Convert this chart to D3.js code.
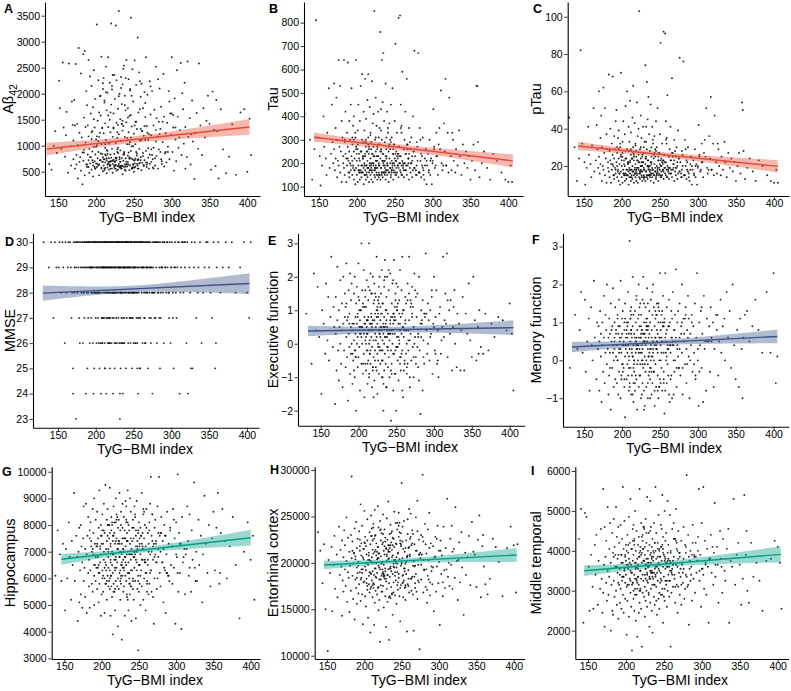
<!DOCTYPE html>
<html><head><meta charset="utf-8">
<script src="https://cdn.jsdelivr.net/npm/d3@7"></script>
<style>body{margin:0;background:#fff}svg{display:block}</style>
</head><body>
<script>
// ---------- DATA ----------
const tygIndex = [
131,138,141,144,146,148,151,152,154,156,157,159,160,161,163,164,166,167,168,169,
170,170,171,172,172,173,174,174,175,176,176,177,178,178,179,180,180,181,182,182,
183,183,184,184,185,185,186,187,187,188,188,189,189,190,190,190,191,191,192,192,
193,193,194,194,195,195,196,196,196,197,197,198,198,199,199,199,200,200,201,201,
201,202,202,203,203,204,204,204,205,205,206,206,207,207,207,208,208,209,209,209,
210,210,210,211,211,211,212,212,212,213,213,213,214,214,214,215,215,215,216,216,
216,217,217,217,218,218,218,219,219,219,220,220,220,221,221,221,222,222,222,223,
223,223,224,224,224,225,225,225,226,226,226,227,227,227,228,228,228,229,229,229,
230,230,230,231,231,231,232,232,232,233,233,233,234,234,234,235,235,235,236,236,
236,237,237,237,238,238,238,239,239,240,240,240,241,241,242,242,243,243,243,244,
244,244,245,245,246,246,246,247,247,248,248,249,249,249,250,250,251,251,252,252,
253,253,254,254,255,255,256,256,257,257,258,258,259,259,260,260,261,262,262,263,
263,264,264,265,266,266,267,267,268,269,269,270,271,271,272,273,273,274,275,276,
276,277,278,279,279,280,281,282,283,284,285,285,286,287,288,289,290,291,292,293,
294,295,296,297,298,299,300,301,302,303,304,305,306,307,308,309,311,312,313,315,
316,317,318,320,321,322,324,325,327,328,330,331,333,335,336,338,340,342,344,346,
348,350,352,354,356,358,359,360,362,365,368,372,376,380,385,391,396,400,403,405,
205,215,225,235,245,255,265,198,208,218,228,238,248,258,268,212,222,232,242,252,
186,196,203,211,219,227,233,239,247,253,261,270,282,292,302,314,326,214,224,234,
241,251,209,219,229,239,249,259,273,288,297,310,232,226,244,216,206,194,254,264,
188,195,201,207,212,217,221,226,230,234,238,243,247,251,256,261,267,274,280,287,
192,199,204,209,214,218,223,227,231,236,240,245,249,254,258,263,269,276,284,295,
184,197,203,210,213,219,224,228,233,237,241,246,250,255,260,266,272,278,290,305,
190,200,206,211,215,220,225,229,232,235,239,244,248,252,257,262,268,275,283,300,
194,202,208,212,216,222,226,230,234,237,242,246,251,255,259,265,271,279,286,318];

const abeta42 = [
920,650,540,1000,1280,860,2250,1720,940,2600,1350,790,1200,1650,480,2580,990,620,1850,1400,
1100,740,1880,560,1390,2570,820,640,1420,1010,370,2880,690,1250,780,2390,520,1160,870,260,
710,2760,1540,920,2820,430,1060,640,2050,1780,590,830,1390,720,2650,1180,480,940,2330,660,
1620,780,540,2150,890,1280,620,1740,410,980,2450,700,1350,560,1900,830,1120,660,3330,1010,
590,1480,760,2260,880,640,1170,430,1950,720,1580,850,2710,560,1030,690,1340,510,2090,780,
1240,620,2300,740,1870,560,960,1430,680,2520,810,1110,470,1680,720,900,2020,580,1360,650,
2700,760,1040,540,1500,690,2210,830,620,1260,3350,700,1790,560,940,2080,650,1170,480,1620,
730,1330,590,2360,840,620,1900,700,3310,1050,560,1440,770,2260,610,1150,880,1710,540,960,
650,3590,1220,780,580,2000,910,1510,690,2320,560,1090,760,1800,620,1290,450,2180,830,710,
1380,590,2540,860,1170,640,1960,760,520,1450,2650,690,1030,600,1720,810,2280,640,1260,530,
1570,780,2090,620,1160,900,3460,560,1370,740,2470,640,1850,990,500,1230,2640,720,1460,600,
880,2170,650,1320,3080,720,1640,560,2410,940,1100,670,1940,780,2190,530,1280,860,1720,610,
1190,2030,720,1550,900,2700,640,1380,1980,770,1110,560,2240,830,1600,690,1200,2050,740,1390,
960,1690,620,1300,2520,800,1180,560,1460,2100,880,1320,1750,650,1070,2380,1560,850,1240,680,
1440,980,2050,740,1620,1210,2700,880,1350,520,1910,1120,700,2450,1560,960,1300,2590,820,1700,
1040,2210,1360,780,2620,1170,1530,640,1870,1080,360,1250,1630,940,2580,1390,820,1720,1160,1480,
1960,1420,540,2040,1310,610,1880,1280,370,1700,930,470,790,1410,440,1640,1700,500,1520,820,
1250,840,690,1480,2060,730,1110,590,1340,640,930,1780,560,2240,670,1030,2360,610,1540,750,
1360,680,1090,530,1640,720,2110,600,990,1460,670,1220,2280,880,1590,2010,1220,760,620,1420,
1150,580,2200,700,860,1680,640,1320,930,1460,1850,1160,590,770,1030,690,1960,1260,850,1380,
640,720,1180,580,830,690,2150,760,610,1420,540,870,1960,660,740,1280,590,820,1530,700,
780,560,1640,690,920,610,1350,520,740,2480,650,1070,580,810,1700,630,950,560,1220,880,
870,1510,620,740,2030,560,690,1260,590,830,640,1590,720,560,1110,680,2140,760,600,1350,
590,980,720,1830,640,770,560,1400,690,610,2300,750,580,1030,660,800,1250,580,930,1620,
1130,650,840,570,1580,710,630,1950,560,880,690,760,1390,620,720,1820,650,1080,740,560];

const tau = [
410,300,130,260,810,310,230,105,190,400,270,220,150,330,520,180,240,450,290,200,
540,260,170,350,220,480,140,300,210,640,190,270,530,160,250,380,120,310,200,230,
640,180,290,150,420,240,120,330,190,270,630,210,160,380,250,140,300,200,450,170,
230,520,150,280,190,360,130,250,400,170,220,110,310,180,640,260,150,210,340,120,
280,190,450,160,240,130,380,210,170,530,250,140,300,190,580,160,220,420,180,110,
200,150,340,230,560,170,270,130,390,190,250,160,470,210,140,310,580,180,240,120,
260,170,440,200,150,330,220,130,290,180,550,240,160,370,200,120,270,190,410,150,
230,850,170,300,140,250,480,190,160,360,210,130,270,180,420,230,150,310,200,140,
190,280,150,760,220,130,340,180,250,640,160,300,210,140,460,190,670,240,160,380,
210,150,290,180,540,230,130,260,170,420,200,150,330,190,250,120,370,220,160,300,
180,260,140,450,210,170,310,190,520,240,130,280,200,160,380,220,150,710,250,180,
330,160,240,190,820,140,270,200,830,170,450,230,150,360,210,590,180,260,140,300,
200,170,420,240,150,560,190,280,220,130,350,180,260,160,310,210,140,400,250,180,
680,230,150,290,190,270,670,160,350,210,140,240,190,310,170,130,220,260,110,190,
240,170,300,150,220,110,200,430,260,180,190,330,230,150,280,350,510,200,170,370,
250,560,190,330,160,480,230,170,300,210,160,260,190,340,230,150,280,200,250,180,
230,130,210,280,170,530,530,290,140,200,250,180,130,240,210,160,130,120,190,120,
250,180,310,200,150,270,190,330,220,170,280,160,240,350,200,190,230,260,160,210,
220,300,170,240,190,260,150,310,180,230,200,290,160,210,270,190,330,250,180,210,
170,240,290,200,160,220,280,190,230,150,210,260,180,230,200,270,160,310,190,240,
220,180,260,160,300,190,240,150,350,210,170,280,200,160,230,190,260,170,210,180,
190,270,160,230,180,320,170,210,250,160,190,290,170,220,160,200,240,180,300,160,
300,170,220,190,150,260,180,230,160,210,350,170,190,240,150,280,200,170,190,230,
160,240,190,150,280,170,210,190,430,160,230,180,260,150,200,170,220,250,160,210,
210,170,230,290,160,200,180,150,240,190,270,160,210,180,330,170,200,150,230,190];

const ptau = [
46,30,12,24,82,32,22,10,19,41,26,21,14,31,51,17,23,42,29,19,
60,25,16,35,21,47,12,30,20,62,18,27,51,15,24,37,11,29,19,22,
69,17,28,14,40,23,11,32,18,26,68,20,15,36,24,13,29,19,44,16,
22,50,14,27,18,35,12,24,39,16,21,10,30,17,70,25,14,20,33,11,
27,18,44,15,23,12,37,20,16,52,24,13,29,18,60,15,21,41,17,10,
19,14,33,22,55,16,26,12,38,18,24,15,46,20,13,30,63,17,23,11,
25,16,43,19,14,32,21,12,28,17,54,23,15,36,19,11,26,18,40,14,
22,103,16,29,13,24,47,18,15,35,20,12,26,17,41,22,14,30,19,13,
18,27,14,74,21,12,33,17,24,65,15,29,20,13,45,18,57,23,15,37,
20,14,28,17,53,22,12,25,16,41,19,14,32,18,24,11,36,21,15,29,
17,25,13,44,20,16,30,18,51,23,12,27,19,15,37,21,14,86,24,17,
32,15,23,18,92,13,26,19,91,16,44,22,14,35,20,58,17,25,13,29,
19,16,41,23,14,67,18,27,21,12,34,17,25,15,30,20,13,39,24,17,
78,22,14,28,18,26,76,15,34,20,13,23,18,30,16,12,21,25,10,18,
23,16,29,14,21,10,19,42,25,17,18,32,22,14,27,34,51,19,16,36,
24,57,18,32,15,47,22,16,29,20,15,25,18,33,22,14,27,19,24,17,
22,12,20,27,16,54,50,28,13,19,24,17,12,23,20,15,12,11,18,11,
24,17,30,19,14,26,18,32,21,16,27,15,23,34,19,18,22,25,15,20,
21,29,16,23,18,25,14,30,17,22,19,28,15,20,26,18,32,24,17,20,
16,23,28,19,15,21,27,18,22,14,20,25,17,22,19,26,15,30,18,23,
21,17,25,15,29,18,23,14,33,20,16,27,19,15,22,18,25,16,20,17,
18,26,15,22,17,31,16,20,24,15,18,28,16,21,15,19,23,17,29,15,
29,16,21,18,14,25,17,22,15,20,34,16,18,23,14,27,19,16,18,22,
15,23,18,14,27,16,20,18,41,15,22,17,25,14,19,16,21,24,15,20,
20,16,22,28,15,19,17,14,23,18,26,15,20,17,32,16,19,14,22,18];

const mmse = [
30,29,30,27,30,29,29,30,28,30,29,26,30,28,29,30,30,29,27,28,
25,24,30,29,28,30,29,23,30,28,30,29,27,30,26,29,30,28,29,30,
26,30,29,28,30,27,30,29,24,28,30,25,29,30,28,27,30,29,26,30,
29,30,28,27,30,29,26,30,28,29,24,30,25,29,30,28,27,30,29,26,
30,28,29,27,30,26,29,30,25,28,30,29,24,30,28,27,29,30,26,29,
30,29,28,30,27,29,30,25,26,28,30,29,30,24,27,29,28,30,26,29,
28,30,29,26,30,27,28,29,30,25,29,30,28,26,30,29,27,28,30,24,
29,30,28,27,30,29,25,26,30,28,29,30,27,29,28,30,26,29,30,28,
30,29,27,28,30,26,29,23,30,28,29,25,27,30,29,28,26,30,29,24,
28,30,29,26,30,27,29,28,30,25,29,30,28,27,30,29,26,28,30,29,
30,28,29,27,30,26,29,30,28,25,30,29,27,28,30,26,29,30,28,29,
29,30,27,28,30,26,29,24,30,28,29,30,27,25,30,29,28,26,30,29,
30,28,29,27,30,26,29,30,28,25,29,30,27,28,30,29,26,29,30,28,
29,30,28,27,30,29,26,30,28,29,25,30,27,29,30,28,26,30,29,28,
30,29,28,27,30,26,29,30,28,25,29,30,28,27,29,30,24,28,29,30,
28,30,29,26,30,24,29,28,30,25,29,30,27,28,29,30,26,28,29,30,
30,29,28,27,30,25,26,29,30,28,29,30,29,30,28,29,30,28,27,30,
30,29,28,30,27,29,30,28,26,29,30,28,27,30,29,25,28,30,29,26,
29,30,28,29,27,30,28,29,30,26,29,30,28,29,27,30,25,29,30,28,
30,28,29,26,30,29,28,30,27,29,28,30,24,29,30,28,26,29,30,27,
30,29,28,30,29,27,30,28,29,30,26,29,30,28,27,30,29,28,30,29,
29,30,28,29,30,26,28,30,29,27,30,29,28,30,25,29,30,28,27,30,
28,30,29,27,30,28,29,30,26,29,30,28,29,25,30,28,29,27,30,29,
30,28,29,30,27,29,28,30,29,26,30,28,29,30,27,29,28,24,30,29,
29,30,27,28,30,29,26,30,28,29,30,27,29,28,30,26,29,30,28,30];

const executive = [
0.9,-0.6,2.1,0.4,1.7,0.2,-1.5,1.0,0.6,-0.3,1.8,0.1,1.4,-0.5,0.8,2.6,-0.1,1.1,0.5,-1.8,
0.3,1.4,-0.8,0.7,2.3,-0.2,1.0,-1.1,0.5,1.9,0.0,-0.6,1.2,0.4,-1.3,2.0,0.6,-0.2,1.5,0.8,
-0.7,1.1,0.2,2.4,-0.4,0.7,-1.7,1.6,0.3,-0.1,0.9,2.1,-0.9,0.5,1.3,-0.3,0.0,1.8,0.6,-1.2,
0.4,-0.5,1.5,0.1,2.0,-1.0,0.8,0.3,-0.2,1.2,-2.0,0.6,1.7,-0.7,0.2,0.9,2.4,-0.4,0.5,1.3,
-0.1,0.7,-1.4,1.0,0.3,3.0,-0.6,0.5,1.6,0.0,-0.9,1.2,0.4,-0.3,2.2,0.8,-1.6,0.1,1.4,0.6,
0.2,-0.8,1.1,0.5,-0.2,1.9,0.7,-1.2,0.3,1.3,-0.5,0.8,3.0,0.0,-1.0,0.6,1.6,-0.3,0.4,2.1,
-0.6,0.9,0.2,1.5,-1.3,0.6,-0.1,2.0,0.4,-0.8,1.2,0.1,-0.4,0.7,1.8,-1.1,0.3,0.9,-0.2,1.4,
0.5,-0.7,2.6,0.2,1.0,-0.3,0.6,-1.5,1.3,0.0,0.8,-0.9,1.7,0.4,-0.1,2.0,0.3,-0.6,1.1,0.7,
-0.2,1.5,0.4,-1.0,0.9,2.2,-0.5,0.1,1.2,-2.0,0.6,0.3,-0.8,1.7,0.8,-0.3,0.5,2.5,-0.6,1.0,
0.2,-1.3,0.7,1.4,-0.1,0.5,2.0,-0.7,0.9,0.3,-0.4,1.6,0.1,-1.0,0.6,2.1,-0.2,0.8,-2.3,1.2,
0.4,-0.6,1.8,0.0,0.9,-1.4,0.6,2.5,-0.3,1.1,0.3,-0.9,1.5,0.7,-0.1,-2.0,1.0,0.2,-0.5,1.7,
0.6,-1.1,1.3,0.1,-0.4,2.2,0.8,-0.8,0.3,1.6,-0.2,2.6,0.5,-1.6,1.0,0.2,-0.6,1.4,0.7,-0.3,
1.2,0.0,-0.9,1.8,0.4,-0.2,2.6,0.7,-1.3,0.3,1.1,-0.5,0.9,1.7,-0.1,0.5,-1.0,2.1,0.2,1.4,
-0.4,0.8,1.5,-0.7,0.3,2.0,-0.2,-2.1,1.0,0.6,-1.4,1.3,0.1,-0.6,0.9,2.7,0.4,-0.3,1.2,0.7,
-0.5,1.0,0.3,1.4,-0.9,0.6,2.0,-0.2,0.8,1.6,-0.6,0.4,-1.0,0.9,1.1,-0.3,0.5,2.6,0.2,1.5,
0.6,2.7,-0.4,1.0,0.3,1.3,-0.8,0.5,1.6,0.0,-0.7,0.9,0.6,-0.8,0.4,1.4,-0.8,0.9,0.3,1.8,
0.1,-0.4,2.0,0.7,-0.5,0.5,-0.3,1.0,-0.1,-0.3,0.9,-0.2,0.6,0.2,0.8,0.7,0.4,1.2,0.3,-1.4,
0.5,-0.3,1.1,0.2,0.8,-0.6,1.3,0.0,0.6,1.5,-0.2,0.4,-0.9,0.9,0.1,0.7,-0.5,1.2,0.3,-0.1,
0.8,-0.4,1.0,0.3,-0.7,1.4,0.5,-0.1,0.9,0.2,-0.5,1.2,0.6,0.0,-0.3,0.7,1.1,0.4,-0.8,0.5,
0.3,1.0,-0.6,0.7,0.2,-0.2,1.3,0.5,-0.4,0.8,1.6,0.1,-1.0,0.9,0.4,-0.2,1.1,0.6,0.0,-0.7,
0.6,-0.2,1.0,0.3,-0.6,0.8,1.3,-0.1,0.5,1.9,0.2,-0.8,0.7,1.1,-0.4,0.4,1.5,0.0,-1.1,0.9,
-0.3,0.8,0.2,1.6,-0.9,0.5,0.1,1.2,-0.5,0.6,2.2,0.3,-0.2,0.9,-1.4,0.4,1.3,-0.6,0.7,0.2,
1.2,-0.4,0.5,0.0,1.7,-0.7,0.8,0.3,-1.2,1.0,0.4,-0.3,1.8,0.6,-0.8,0.1,1.1,-0.1,0.9,-0.5,
0.4,1.4,-0.6,0.7,0.1,-1.6,1.0,0.5,-0.2,2.0,0.3,-0.9,0.8,1.2,-0.3,0.6,-1.0,1.6,0.2,0.5,
-0.8,0.3,1.1,-0.2,0.6,1.5,-0.5,0.9,0.0,-1.3,0.7,1.9,-0.1,0.4,1.0,-0.6,0.8,0.2,-0.4,1.3];

const memory = [
-0.2,1.2,0.3,0.8,1.8,0.2,1.6,-0.3,0.5,1.1,-0.8,1.4,0.4,0.0,2.1,0.6,-0.5,1.0,0.3,0.9,
0.5,-0.8,1.3,0.1,0.7,-1.1,1.0,0.4,-0.3,1.7,0.6,-0.6,0.2,1.2,0.8,-0.1,2.0,0.3,-0.9,0.6,
1.1,-0.4,0.7,0.2,1.5,-1.3,0.5,0.9,-0.2,0.4,1.9,0.0,-0.7,1.0,0.3,0.6,-0.5,1.4,0.1,0.8,
-0.6,0.4,1.2,0.0,0.7,-0.9,1.6,0.3,-0.3,0.9,0.5,-1.0,2.1,0.2,0.6,-0.4,1.1,0.7,-0.1,0.4,
1.3,-0.2,0.5,0.8,-0.7,0.1,1.5,-1.5,0.6,0.3,1.0,-0.5,0.2,0.9,-0.1,1.8,0.4,-0.8,0.7,0.0,
3.15,0.3,-0.6,1.1,0.5,-0.2,0.8,1.4,-0.9,0.2,0.6,-0.4,2.2,0.1,0.9,-1.1,0.4,1.2,0.0,0.7,
-0.3,0.6,1.3,-0.8,0.2,1.0,0.5,-0.5,1.7,0.3,-0.1,0.8,-1.3,0.4,1.1,0.0,0.6,-0.7,2.0,0.3,
0.9,-0.4,0.2,1.5,-0.1,0.6,-1.0,1.2,0.4,0.0,0.8,-0.6,1.6,0.3,-0.2,0.7,2.2,-0.8,0.5,1.0,
0.1,-1.2,0.7,0.4,1.4,-0.3,0.8,0.0,-0.7,1.1,0.5,1.9,-0.1,0.3,-1.0,0.9,0.6,-0.4,1.3,0.2,
0.7,-0.5,1.0,0.3,-0.2,1.6,0.4,-0.9,0.8,0.1,1.2,-0.6,0.5,2.0,0.0,-0.3,0.9,0.4,-1.2,0.6,
-0.1,1.1,0.3,-0.7,0.8,0.5,1.5,-0.4,0.2,1.0,-1.0,0.6,0.0,1.3,-0.5,2.3,0.4,0.8,-0.2,1.2,
0.5,-0.8,0.9,1.7,0.2,-0.3,1.1,-1.4,0.6,2.3,0.0,0.7,-0.6,1.4,0.3,-0.1,0.9,1.6,-0.9,0.4,
1.0,0.2,-0.5,1.3,0.6,-1.0,0.4,1.8,0.0,0.8,-0.3,1.2,0.5,2.4,-0.7,0.3,1.0,0.1,-0.2,1.5,
0.6,-0.4,0.9,2.0,0.2,-0.9,1.1,0.5,-0.1,1.4,0.3,-0.6,0.8,1.7,0.1,-1.0,0.7,0.4,1.2,-0.3,
0.9,0.2,1.5,-0.5,0.6,2.3,0.0,-1.2,1.0,0.4,1.3,-0.2,0.7,-1.1,1.7,0.3,-0.8,1.1,0.5,0.9,
-0.3,1.4,0.6,1.0,-0.7,0.3,1.2,0.8,-0.4,0.5,1.6,0.2,0.9,1.1,0.0,1.8,0.6,1.3,-0.2,2.0,
0.4,-0.5,0.8,-0.7,1.1,0.3,-1.0,0.6,1.2,1.3,0.5,0.9,1.6,0.8,0.2,1.8,0.2,2.3,-0.6,0.1,
0.4,-0.2,0.9,0.1,1.2,-0.6,0.6,0.3,1.0,-0.4,0.7,0.0,1.4,0.5,-0.9,0.8,0.2,1.1,-0.3,0.6,
0.8,0.2,-0.5,1.1,0.4,-0.1,0.9,0.6,-0.8,1.3,0.3,0.0,0.7,1.0,-0.3,0.5,1.2,0.1,0.6,-0.6,
0.3,1.0,-0.2,0.6,1.5,0.1,-0.7,0.8,0.4,1.1,-0.4,0.5,0.9,0.2,1.3,-0.1,0.7,0.0,1.0,0.4,
0.2,0.9,-0.3,0.6,1.2,-0.6,0.4,0.8,-0.1,1.5,0.3,-0.8,0.7,0.0,1.0,-0.4,0.5,1.3,-0.2,0.6,
0.7,-0.5,1.1,0.1,-0.9,0.5,1.4,0.0,0.6,-0.3,1.8,0.4,-0.7,0.9,0.2,-1.1,0.8,0.3,1.2,-0.1,
-0.2,0.6,1.0,-0.7,0.3,1.6,-0.4,0.5,0.9,-1.0,0.2,1.2,0.6,-0.5,0.4,1.1,-0.2,0.7,0.0,1.4,
0.5,-0.1,0.8,1.3,-0.6,0.3,0.7,-1.3,1.0,0.1,-0.3,0.6,1.5,0.2,-0.8,0.9,0.4,-0.2,1.1,0.3,
1.1,0.4,-0.4,0.7,0.0,1.2,-0.9,0.5,0.8,-0.2,1.4,0.3,-0.6,0.9,0.1,-0.4,0.6,1.0,-0.1,0.5];

const hippocampus = [
7700,6100,7800,6900,5900,7300,4800,7100,6000,8100,6800,5200,7400,6500,9200,5900,7600,6800,4400,7000,
5100,7900,6300,8000,5400,7200,6600,4900,7500,5900,8700,6400,7100,5300,8800,6900,4700,7600,6200,8300,
6700,5700,7800,4900,8100,6300,7400,5800,7000,8600,5500,6900,7700,6100,9000,5000,7300,6500,8200,5900,
7200,6400,8500,5600,7500,6800,5100,7900,6200,9300,5800,7100,6600,4600,8000,6900,5400,7600,6300,8400,
6000,7300,5500,8800,6700,4700,7700,6400,9500,5800,7100,6500,8200,5200,7400,6100,8600,5700,7000,6800,
8000,5900,7500,6300,9400,5600,7200,6600,4600,7800,6100,8300,5300,7000,6500,3900,7600,6200,8700,5800,
6900,7700,5500,8100,6300,7300,4800,6700,9000,5900,7500,6400,8400,5700,7100,6600,4200,7900,6000,8200,
7400,5600,6800,9200,6200,7800,5200,7000,6500,8500,5800,7300,3700,6600,7900,6100,8800,5500,7100,6700,
6300,8300,5700,7500,6800,4600,8900,6100,7200,5900,8100,6500,7700,5300,6900,9300,6200,7400,4800,8000,
6600,5800,7800,6200,9000,5400,7300,6700,8500,5700,7100,4400,7900,6300,8200,6000,7500,5200,6800,8700,
7000,6400,8300,5900,7600,4500,7200,6600,8900,5600,7400,6100,3300,7800,6500,8100,5800,7300,6900,5000,
7600,6300,9200,5700,7100,6700,8400,5200,7500,6000,8000,6600,4800,7200,6200,8600,5900,7700,6500,5400,
7300,8100,5800,6900,9800,6300,7600,5500,8400,6700,7200,4300,7900,6000,8200,6600,7400,5600,8700,6800,
7100,9800,6200,7700,5700,8300,6600,7400,5100,8000,6300,7600,4700,6900,8500,6100,7300,5900,7800,6500,
7200,5800,8600,6400,7500,4300,8100,6800,9900,5500,7700,6200,7300,4100,8300,6600,7100,5400,6900,8700,
7400,6100,8400,5500,7800,6700,9600,6400,7000,5900,8200,6500,7600,5100,6900,9100,7300,6200,8000,5700,
7500,8500,6300,7900,9200,5800,6200,7700,8600,7400,6000,7200,8300,6500,4500,7000,8100,6700,7600,5200,
6600,7400,5900,8100,6900,7700,6200,7200,8000,6400,7500,5800,7100,6700,8400,6100,7300,6800,5600,7900,
7200,6500,7800,6000,7400,6900,8200,6300,7000,7600,5500,7300,6600,7900,6200,7100,5900,8000,6800,7400,
6900,7500,6400,8100,7100,5700,7700,6600,7300,6200,8200,6800,7500,6000,7000,7600,6300,7200,6700,7800,
7100,6400,7800,5900,7300,6700,8300,6100,7500,5400,6900,7900,6300,7200,8600,5800,7000,6600,7700,6200,
6800,7600,6000,7100,8100,5600,7400,6500,7800,6200,6900,8400,5900,7300,6600,7000,5300,7700,6400,7200,
7500,6200,7000,8000,5700,6800,7300,6400,8700,6000,7400,6700,5500,7100,7900,6300,6900,7600,6100,7300,
6500,7300,5800,7700,6900,8200,6300,7000,6600,5200,7500,6800,7200,6100,8500,6700,7400,6000,7100,6900,
7300,6100,7600,6700,5500,7100,8000,6400,7400,6900,5900,7800,6500,7200,6200,8800,6800,7000,7600,6400];

const entorhinal = [
19200,23300,21300,17800,22000,15000,10500,20300,18900,21700,14800,19800,22900,17200,20900,16300,23900,18700,21400,19600,
14300,22400,18100,20600,16900,23500,19300,21900,17500,20200,24900,15800,19000,22700,18400,14700,21200,19700,23000,17000,
20500,29300,18600,22300,16100,19900,21000,13900,23700,18200,20700,17300,24400,19500,15600,21600,18900,22600,16700,20100,
23400,17700,21300,19000,26300,15900,20800,18400,22100,16600,24000,19300,13400,21500,17900,20400,25600,18000,22800,16400,
19600,21800,15300,20900,18300,24700,17100,22400,19800,14100,21100,18600,23300,16800,20300,12500,22000,18800,25100,17400,
20600,18100,22900,16300,21400,19100,24200,17800,20000,13300,22600,18700,21200,15700,25700,19400,17000,23000,20800,18400,
22100,16600,20400,18900,26100,17300,21700,14900,19700,23800,18200,21000,16000,24500,19300,11500,20700,22400,17600,19900,
18600,23200,20100,16900,22000,19000,25200,17500,21300,15200,19800,23600,18300,20900,16400,22700,19400,13100,21600,18000,
24800,17200,20200,22500,18700,15800,21900,19300,26600,17800,20500,11700,23100,18500,21200,16200,19600,24100,17400,22200,
19100,21400,16700,23400,18800,20800,14400,22600,17900,25500,19500,21700,16500,20300,24300,18100,22000,15600,20600,17600,
23600,19000,21100,17100,22800,18400,25400,16400,20400,22100,13700,19700,21800,17600,28600,20000,23900,18600,16300,21500,
19400,24500,17300,21200,19900,16000,22400,18800,20700,12600,23100,17700,21600,19200,25800,16800,20900,18300,22800,17000,
21900,18500,23500,16600,20200,12700,22000,19600,17300,24900,18800,21300,16100,26700,19800,17900,22500,10700,20500,23000,
18200,20900,29500,16800,22300,19300,24200,17400,21000,15700,23600,18600,20300,25400,16500,22100,19100,17700,21800,14800,
20600,22800,16900,19600,24000,17800,21300,13300,22400,18800,20800,16400,23900,19200,17300,21600,26900,18500,20000,22600,
19800,24000,17200,21500,18400,26000,20200,16000,22200,17900,23300,19500,14400,21100,18700,20600,22900,17600,24400,21200,
20900,17400,22500,25100,16300,21800,23000,19600,17700,16600,18300,22600,21700,20100,16400,21600,23900,21900,16800,22000,
20300,18500,22200,19400,21000,17600,23100,20600,18900,21700,19100,22700,17300,20800,19700,23800,18200,21400,20000,17900,
21100,19300,17800,22400,20500,18600,21900,19900,23300,18100,20700,16900,22000,19500,21300,17500,20300,22900,18800,21600,
19000,22300,20200,17400,21500,19600,23200,18300,20900,17900,22600,19300,21200,18600,24300,20000,17700,21800,19400,22100,
20400,18200,22100,19000,17300,21200,23500,18800,20700,16400,21900,19500,24300,17800,20100,22600,18500,20900,19200,21600,
19700,21500,17500,22900,19400,20500,16900,21800,18700,23200,20300,17900,22000,19100,24700,18300,21300,19800,17100,20700,
21300,18900,20000,23700,17700,21000,19300,22300,16300,20600,18600,24000,19900,17400,21700,20200,18100,22800,19600,17900,
18400,22200,20800,17600,21400,19500,23100,18300,20400,21900,16800,19900,22400,18700,20600,25300,17800,21100,19300,20100,
22500,19200,17200,21000,20000,23600,18500,20900,19400,16600,22100,18800,20500,21600,17500,19700,23400,20300,18200,21200];

const middleTemporal = [
3450,4300,5050,2200,4950,4850,3600,2500,3900,3100,2550,4150,3400,4400,2650,3750,3050,4550,3300,2450,
5550,2950,3650,4600,2100,3850,3200,4250,2750,5100,3500,2900,4050,3350,4700,2000,3700,3150,4450,2500,
3950,2400,4800,3250,4100,2850,3600,5100,3000,4350,2650,3800,3450,4600,2300,3900,3150,4200,2700,3550,
4650,3050,3900,2550,4300,3350,5600,2900,3700,4050,2450,3500,4750,3200,3850,2800,4150,3400,1900,3650,
3100,4400,2750,3950,3550,4850,2350,3800,3300,4200,2950,5300,3650,2600,4050,3450,1500,3750,4550,3200,
2800,3900,4650,3400,2500,4250,3700,3050,5000,3550,2250,4000,3250,4500,2900,3800,3600,1850,4150,3350,
3650,2450,4350,3150,3850,2700,5550,3500,4100,3000,4700,3300,2550,3950,3700,1600,4250,3400,2950,4600,
3250,4050,2850,3750,4550,3100,2350,3900,3550,4800,2750,3650,4200,3000,5350,3450,2600,4000,3200,3800,
4450,2950,3600,2100,4150,3350,3900,2700,5250,3700,3050,4600,3450,2500,3850,4300,3150,1950,3750,4000,
3300,4700,2850,3950,3550,4200,2650,5600,3400,3800,3100,4450,2400,3650,4050,3250,4900,2800,3700,3500,
4000,2550,3850,3200,4650,3450,2900,4100,3750,5400,3050,3600,2200,4350,3350,3900,2750,5000,3550,4250,
3150,4450,3700,2600,3950,5250,3400,4150,2850,3600,4900,3250,1600,4000,3500,2950,4550,3750,3100,4700,
3850,3300,4300,2700,3650,5050,3150,4050,2450,3800,4500,3450,2900,3950,3350,4250,2650,3700,3200,4600,
3550,2800,4150,3950,3400,5900,3100,4400,2150,3750,3250,4000,3600,2750,4650,3300,3850,2950,4200,3450,
3750,4350,5550,3250,3900,2600,4700,3550,5600,3050,4250,3700,2900,4050,3600,2200,3800,4400,3450,3150,
3950,5200,3350,4100,3650,2700,4500,3800,2950,4300,3500,3250,4050,4550,2200,3750,3600,5300,3150,3900,
4200,3650,2650,3300,5400,3900,4500,3000,2700,4200,3350,3700,3250,2500,3750,3800,4250,4100,3700,2550,
3700,3200,4100,3450,3850,3000,4300,3550,3150,3950,3400,4200,2900,3750,3600,3300,4050,3500,3850,3250,
3900,3350,3650,4150,3050,3800,3450,4000,3250,3700,3550,3950,3150,3850,3400,4100,3600,3300,3750,3500,
3450,3850,3200,4000,3600,3350,3950,3700,3150,4200,3500,3800,3300,3650,4050,3550,3250,3900,3600,3400,
3600,3250,4000,3450,2900,3850,4350,3300,3700,4100,3150,3550,4550,3050,3800,3400,4200,3650,3350,3900,
3400,3900,3150,4250,3600,3000,3750,4450,3300,3850,2750,3650,4050,3250,3500,4300,3100,3800,3550,4000,
3850,3350,4150,3000,3700,3500,4600,3250,3950,3150,3600,4100,2850,3750,3450,4250,3550,3050,3900,3650,
3200,3750,3500,4300,3050,3900,3400,3700,4500,3350,3600,2950,4150,3800,3250,3650,4000,3450,3850,3550,
3700,3150,4050,3600,3350,4400,3550,2900,3800,3450,4200,3300,3750,3600,3950,3100,3850,4100,3400,3650];

const xTicks = [150, 200, 250, 300, 350, 400];
const yTicksA = [500, 1000, 1500, 2000, 2500, 3000, 3500];
const yTicksB = [100, 200, 300, 400, 500, 600, 700, 800];
const yTicksC = [20, 40, 60, 80, 100];
const yTicksD = [23, 24, 25, 26, 27, 28, 29, 30];
const yTicksE = [-2, -1, 0, 1, 2, 3];
const yTicksF = [-1, 0, 1, 2, 3];
const yTicksG = [3000, 4000, 5000, 6000, 7000, 8000, 9000, 10000];
const yTicksH = [10000, 15000, 20000, 25000, 30000];
const yTicksI = [2000, 3000, 4000, 5000, 6000];

const panelLetters = ['A','B','C','D','E','F','G','H','I'];
const yTitles = ['Aβ42','Tau','pTau','MMSE','Executive function','Memory function','Hippocampus','Entorhinal cortex','Middle temporal'];
const xTitle = 'TyG\u2212BMI index';

// fitted linear trend and 95% CI half-widths
const fitStartX = [134.6, 143.4, 142.5, 130, 133.2, 133.8, 146, 146, 145];
const fitEndX   = [402.9, 406, 405, 403.5, 405, 405, 400, 404, 404];
const fitStartY = [936, 311, 30.7, 27.98, 0.38, 0.35, 6716, 19766, 3501];
const fitEndY   = [1360, 210, 19.8, 28.36, 0.48, 0.63, 7525, 20843, 3912];
const ciStart   = [122, 20, 2.2, 0.30, 0.16, 0.14, 206, 450, 134];
const ciMid     = [64, 12.8, 1.35, 0.13, 0.085, 0.07, 94, 250, 70];
const ciEnd     = [151, 28, 3.3, 0.41, 0.22, 0.18, 294, 750, 200];
const fitCenterX = 245;

// ---------- LAYOUT ----------
const RED = '#E64B35', BLUE = '#3C5488', GREEN = '#00A087';
const panels = [
 {y: abeta42, ticks: yTicksA, left: 45,    top: 2,     right: 260,   bottom: 196,   xDom: [132.4, 416.8], yDom: [33, 3763],     color: RED,   titleX: 147, ytx: 12.5, lx: 4,   ly: 13},
 {y: tau,     ticks: yTicksB, left: 304,   top: 2,     right: 523,   bottom: 196,   xDom: [130.2, 419.4], yDom: [60, 888],      color: RED,   titleX: 411, ytx: 278, lx: 269, ly: 13},
 {y: ptau,    ticks: yTicksC, left: 567.7, top: 2,     right: 789,   bottom: 196,   xDom: [129, 419.7],   yDom: [3.9, 107.9],   color: RED,   titleX: 675, ytx: 541, lx: 533, ly: 13},
 {y: mmse,    ticks: yTicksD, left: 33,    top: 233.3, right: 259,   bottom: 427.7, xDom: [117, 416],     yDom: [22.65, 30.35], color: BLUE,  titleX: 145, ytx: 15,  lx: 5,   ly: 246},
 {y: executive, ticks: yTicksE, left: 298, top: 233.3, right: 524.7, bottom: 425.7, xDom: [120, 420],     yDom: [-2.45, 3.3],   color: BLUE,  titleX: 410, ytx: 278, lx: 268, ly: 245},
 {y: memory,  ticks: yTicksF, left: 563,   top: 233.3, right: 788.7, bottom: 426.7, xDom: [122, 420],     yDom: [-1.75, 3.35],  color: BLUE,  titleX: 674, ytx: 541, lx: 532, ly: 244},
 {y: hippocampus, ticks: yTicksG, left: 51.7, top: 466.7, right: 260, bottom: 659, xDom: [133, 412.5], yDom: [2975, 10188], color: GREEN, titleX: 155, ytx: 15, lx: 2, ly: 476},
 {y: entorhinal, ticks: yTicksH, left: 314.7, top: 466.7, right: 524.7, bottom: 659, xDom: [133.5, 414.7], yDom: [9645, 30355], color: GREEN, titleX: 419, ytx: 278, lx: 270, ly: 474},
 {y: middleTemporal, ticks: yTicksI, left: 575.3, top: 466.7, right: 788.7, bottom: 659, xDom: [133.3, 414.5], yDom: [1290, 6108], color: GREEN, titleX: 680, ytx: 541, lx: 531, ly: 475}
];

const FONT = '"Liberation Sans", Arial, Helvetica, sans-serif';
const svg = d3.select('body').append('svg').attr('width', 791).attr('height', 691);
const defs = svg.append('defs');

panels.forEach((p, i) => {
  const x = d3.scaleLinear().domain(p.xDom).range([p.left, p.right]);
  const y = d3.scaleLinear().domain(p.yDom).range([p.bottom, p.top]);
  const g = svg.append('g');

  defs.append('clipPath').attr('id', 'clip' + i)
    .append('rect').attr('x', p.left).attr('y', p.top)
    .attr('width', p.right - p.left).attr('height', p.bottom - p.top);

  // points
  g.append('g').attr('clip-path', `url(#clip${i})`)
    .selectAll('circle').data(d3.range(tygIndex.length)).join('circle')
    .attr('cx', j => x(tygIndex[j])).attr('cy', j => y(p.y[j]))
    .attr('r', 0.95).attr('fill', '#111').attr('fill-opacity', 0.9);

  // fitted line + CI band
  const x0 = fitStartX[i], x1 = fitEndX[i];
  const fit = v => fitStartY[i] + (fitEndY[i] - fitStartY[i]) * (v - x0) / (x1 - x0);
  const half = v => {
    const left = v < fitCenterX;
    const e = left ? ciStart[i] : ciEnd[i];
    const xe = left ? x0 : x1;
    const t = (v - fitCenterX) / (xe - fitCenterX);
    return Math.sqrt(ciMid[i] * ciMid[i] + (e * e - ciMid[i] * ciMid[i]) * t * t);
  };
  const xs = d3.range(0, 101).map(k => x0 + (x1 - x0) * k / 100);
  g.append('path').datum(xs)
    .attr('d', d3.area().x(v => x(v)).y0(v => y(fit(v) - half(v))).y1(v => y(fit(v) + half(v))))
    .attr('fill', p.color).attr('fill-opacity', 0.4);
  g.append('path').datum([x0, x1])
    .attr('d', d3.line().x(v => x(v)).y(v => y(fit(v))))
    .attr('stroke', p.color).attr('stroke-width', 1.4).attr('fill', 'none');

  // axes
  const ax = g.append('g').attr('transform', `translate(0,${p.bottom})`)
    .call(d3.axisBottom(x).tickValues(xTicks).tickSize(3.5).tickSizeOuter(0).tickPadding(0));
  const ay = g.append('g').attr('transform', `translate(${p.left},0)`)
    .call(d3.axisLeft(y).tickValues(p.ticks).tickSize(3.5).tickSizeOuter(0).tickPadding(1.5).tickFormat(d3.format('d')));
  [ax, ay].forEach(a => {
    a.select('.domain').attr('stroke', '#000').attr('stroke-width', 1.1);
    a.selectAll('.tick line').attr('stroke', '#222').attr('stroke-width', 0.9);
    a.selectAll('.tick text').attr('fill', '#000').style('font-family', FONT).style('font-size', '10.5px');
  });

  // x title
  svg.append('text').attr('x', p.titleX).attr('y', p.bottom + 26)
    .attr('text-anchor', 'middle').style('font-family', FONT).style('font-size', '14px')
    .attr('fill', '#000').text(xTitle);

  // y title
  const cy = (p.top + p.bottom) / 2;
  const yt = svg.append('text').attr('transform', `translate(${p.ytx},${cy}) rotate(-90)`)
    .attr('text-anchor', 'middle').style('font-family', FONT).style('font-size', '14.5px').attr('fill', '#000');
  if (i === 0) {
    yt.append('tspan').text('Aβ');
    yt.append('tspan').attr('dy', 4).style('font-size', '10.5px').text('42');
  } else {
    yt.text(yTitles[i]);
  }

  // panel letter
  svg.append('text').attr('x', p.lx).attr('y', p.ly)
    .style('font-family', FONT).style('font-size', '12.5px').style('font-weight', 'bold')
    .attr('fill', '#000').text(panelLetters[i]);
});
</script>
</body></html>
